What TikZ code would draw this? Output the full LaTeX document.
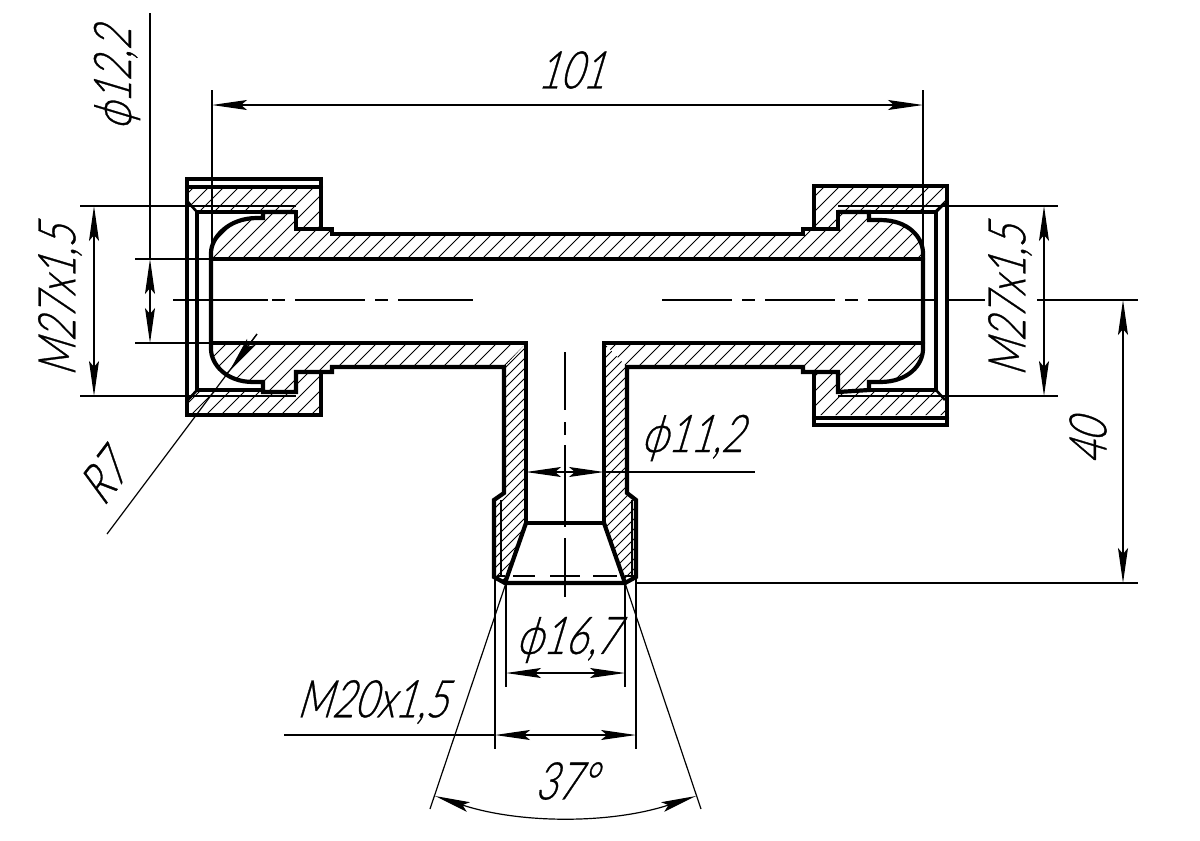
\documentclass[tikz,border=0pt]{standalone}
\usepackage{fontspec}
\usetikzlibrary{arrows.meta}
\newfontfamily\gost[FakeSlant=0.3,FakeStretch=0.74,FakeBold=0.6]{Lato Light}
\newcommand{\hatchreg}[3]{% spacing, phase, path
  \begin{scope}
    \clip #3 -- cycle;
    \foreach \k in {0,...,140}{
      \pgfmathsetmacro{\cc}{#2+\k*#1}
      \ifdim \cc pt<2200pt
      \draw[hatchl] (\cc,0) -- (\cc-841,841);
      \fi
    }
  \end{scope}}
\tikzset{
  cont/.style={line width=2.1pt,line join=miter,line cap=round},
  med/.style={line width=1.3pt},
  thinl/.style={line width=.6pt},
  hatchl/.style={line width=.5pt},
  dimboth/.style={thinl,{Stealth[length=17.5pt,width=5pt,inset=3pt]}-{Stealth[length=17.5pt,width=5pt,inset=3pt]}},
  dimend/.style={thinl,-{Stealth[length=17.5pt,width=5pt,inset=3pt]}},
  lbl/.style={inner sep=0pt,font=\gost\fontsize{26}{26}\selectfont}
}
\begin{document}
\begin{tikzpicture}[x=0.5pt,y=-0.5pt]
\useasboundingbox (0,0) rectangle (1200,841);
\fill[white] (0,0) rectangle (1200,841);
% ---- hatching
\hatchreg{15}{6}{(188,187) -- (321,187) -- (321,229) -- (296,229) -- (296,212) -- (197,212) -- (188,202)}
\hatchreg{15}{6}{(188,415) -- (321,415) -- (321,372) -- (296,372) -- (296,392) -- (263,392) -- (197,390) -- (188,400)}
\hatchreg{15}{6}{(211,259) -- (211,253) .. controls (211,238) and (228,218) .. (257,218) -- (263,218) -- (263,212) -- (296,212) -- (296,229) -- (332,229) -- (332,234) -- (803,234) -- (803,229) -- (838,229) -- (838,212) -- (869,212) -- (869,220) -- (880,220) .. controls (909,220) and (923,238) .. (923,253) -- (923,259)}
\hatchreg{15}{0}{(211,343) -- (526,343) -- (504,367) -- (332,367) -- (332,372) -- (296,372) -- (296,392) -- (263,392) -- (263,382) -- (253,382) .. controls (226,382) and (211,364) .. (211,349)}
\hatchreg{15}{0}{(604,343) -- (923,343) -- (923,349) .. controls (923,364) and (909,382) .. (880,382) -- (869,382) -- (869,390) -- (838,390) -- (838,372) -- (803,372) -- (803,367) -- (627,367)}
\hatchreg{10}{3}{(526,343) -- (504,367) -- (504,493) -- (494,500) -- (494,577) -- (505,583) -- (526,523)}
\hatchreg{10}{3}{(604,343) -- (627,367) -- (627,493) -- (636,500) -- (636,577) -- (625,583) -- (604,523)}
\hatchreg{15}{6}{(814,186) -- (947,186) -- (945,203) -- (936,212) -- (838,212) -- (838,229) -- (814,229)}
\hatchreg{15}{6}{(814,372) -- (838,372) -- (838,390) -- (936,390) -- (945,400) -- (945,415) -- (814,415)}
% ---- outlines
% left nut
\draw[cont] (321,229) -- (321,179) -- (187,179) -- (187,415) -- (321,415) -- (321,372);
\draw[cont] (187,187) -- (321,187);
\draw[cont] (197,390) -- (197,212) -- (296,212) -- (296,229) -- (321,229);
\draw[cont] (197,390) -- (263,390);
\draw[med] (188,202) -- (197,212) (188,400) -- (197,390);
% right nut
\draw[cont] (814,229) -- (814,186) -- (947,186) -- (947,425) -- (814,425) -- (814,372);
\draw[cont] (814,418) -- (947,418);
\draw[cont] (936,390) -- (936,212) -- (838,212) -- (838,229) -- (814,229);
\draw[cont] (936,390) -- (869,390);
\draw[med] (945,203) -- (936,212) (945,400) -- (936,390);
% body
\draw[cont] (321,229) -- (332,229) -- (332,234) -- (803,234) -- (803,229) -- (814,229);
\draw[cont] (211,259) -- (923,259);
\draw[cont] (526,523) -- (526,343) -- (211,343);
\draw[cont] (604,523) -- (604,343) -- (923,343);
\draw[cont] (296,212) -- (263,212) -- (263,218) -- (257,218) .. controls (228,218) and (211,238) .. (211,253) -- (211,349) .. controls (211,364) and (226,382) .. (253,382) -- (263,382) -- (263,392) -- (296,392) -- (296,372) -- (332,372) -- (332,367) -- (504,367) -- (504,493) -- (494,500) -- (494,577) -- (505,583) -- (625,583) -- (636,577) -- (636,500) -- (627,493) -- (627,367) -- (803,367) -- (803,372) -- (838,372) -- (838,392) -- (869,390) -- (869,382) -- (880,382) .. controls (909,382) and (923,364) .. (923,349) -- (923,253) .. controls (923,238) and (909,220) .. (880,220) -- (869,220) -- (869,212) -- (838,212);
\draw[cont] (526,523) -- (604,523);
\draw[cont] (526,523) -- (505,583);
\draw[cont] (604,523) -- (625,583);
% thread lines in the leg
\draw[thinl] (501,500) -- (501,577) (632,500) -- (632,577);
\draw[thinl] (497,576) -- (505,576) (513,576) -- (535,576) (550,576) -- (580,576) (593,576) -- (617,576) (625,576) -- (634,576);
% centre lines
\draw[thinl] (173,300) -- (268,300) (272,300) -- (285,300) (295,300) -- (365,300) (375,300) -- (388,300) (398,300) -- (473,300);
\draw[thinl] (662,300) -- (732,300) (742,300) -- (755,300) (765,300) -- (835,300) (845,300) -- (858,300) (868,300) -- (938,300) (948,300) -- (985,300);
\draw[thinl] (1037,300) -- (1138,300);
\draw[thinl] (565,352) -- (565,410) (565,422) -- (565,435) (565,445) -- (565,527) (565,538) -- (565,597);
% ---- dimensions
% 101
\draw[thinl] (212,90) -- (212,259) (923,90) -- (923,259);
\draw[dimboth] (212,105) -- (923,105);
% phi 12,2
\draw[thinl] (135,259) -- (211,259) (135,343) -- (211,343);
\draw[thinl] (150,13) -- (150,259);
\draw[dimboth] (150,259) -- (150,343);
% M27 left
\draw[thinl] (80,206) -- (296,206) (80,396) -- (296,396);
\draw[dimboth] (94,206) -- (94,396);
% M27 right
\draw[thinl] (838,206) -- (1058,206) (838,396) -- (1058,396);
\draw[dimboth] (1044,206) -- (1044,396);
% 40
\draw[thinl] (635,583) -- (1138,583);
\draw[dimboth] (1123,300) -- (1123,583);
% phi 11,2
\draw[thinl] (604,472) -- (755,472);
\draw[dimboth] (526,472) -- (604,472);
% phi 16,7
\draw[thinl] (506,583) -- (506,687) (625,583) -- (625,687);
\draw[dimboth] (506,673) -- (625,673);
% M20
\draw[thinl] (495,577) -- (495,749) (636,577) -- (636,749);
\draw[thinl] (284,735) -- (495,735);
\draw[dimboth] (495,735) -- (636,735);
% 37 deg
\draw[thinl] (506,583) -- (430,809) (625,583) -- (701,809);
\draw[dimboth] (435,796) .. controls (520,824) and (611,824) .. (696,796);
% R7
\draw[thinl] (107,534) -- (257,334);
\draw[dimend] (257,334) -- (230,370);
% ---- texts
\node[lbl] (t101) at (571,70) {101};
\node[lbl,rotate=90] (tphi122) at (117,79) {ϕ12,2};
\node[lbl,rotate=90] (tm27l) at (60,301) {M27x1,5};
\node[lbl,rotate=90] (tm27r) at (1010,301) {M27x1,5};
\node[lbl,rotate=90] (t40) at (1088,442) {40};
\node[lbl] (tphi112) at (692,438) {ϕ11,2};
\node[lbl] (tphi167) at (567,640) {ϕ16,7};
\node[lbl] (tm20) at (372,702) {M20x1,5};
\node[lbl] (t37) at (565,781) {37°};
\node[lbl,rotate=53] (tr7) at (103,478) {R7};
\end{tikzpicture}
\end{document}
